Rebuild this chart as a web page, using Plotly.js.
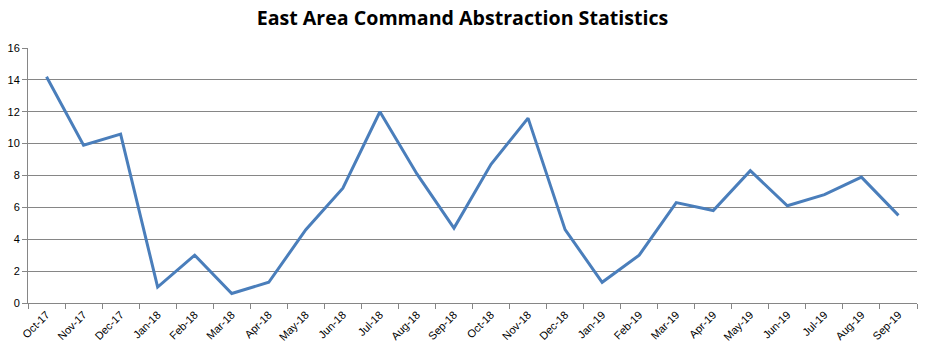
<!DOCTYPE html>
<html>
<head>
<meta charset="utf-8">
<script src="https://cdn.plot.ly/plotly-3.0.1.min.js"></script>
<style>html,body{margin:0;padding:0;background:#fff;}#chart{width:925px;height:354px;}</style>
</head>
<body>
<div id="chart"></div>
<script>
const months = ["Oct-17","Nov-17","Dec-17","Jan-18","Feb-18","Mar-18","Apr-18","May-18","Jun-18","Jul-18","Aug-18","Sep-18","Oct-18","Nov-18","Dec-18","Jan-19","Feb-19","Mar-19","Apr-19","May-19","Jun-19","Jul-19","Aug-19","Sep-19"];
const abstractions = [14.2,9.9,10.6,1.0,3.0,0.6,1.3,4.6,7.2,12.0,8.1,4.7,8.7,11.6,4.6,1.3,3.0,6.3,5.8,8.3,6.1,6.8,7.9,5.5];
const yTicks = [0,2,4,6,8,10,12,14,16];

Plotly.newPlot('chart', [{
  x: months, y: abstractions, type: 'scatter', mode: 'lines',
  line: {color: '#4a7ebb', width: 3}
}], {
  width: 925, height: 354,
  margin: {l: 28, r: 8, t: 48, b: 51},
  paper_bgcolor: '#fff', plot_bgcolor: '#fff',
  showlegend: false,
  title: {text: '<b>East Area Command Abstraction Statistics</b>', x: 0.5, xanchor: 'center', y: 0.95, yanchor: 'middle',
    font: {family: 'Open Sans, Liberation Sans, sans-serif', size: 19.6, color: '#000'}},
  xaxis: {type: 'category', tickangle: -45, tickson: 'boundaries', ticks: 'outside', ticklen: 5, tickcolor: '#868686',
    showline: true, linecolor: '#868686', linewidth: 1, showgrid: false, zeroline: false,
    tickfont: {family: 'Liberation Sans, sans-serif', size: 11, color: '#000'}, range: [-0.5, 23.5]},
  yaxis: {range: [0, 16], tickvals: yTicks, ticks: 'outside', ticklen: 5, tickcolor: '#868686',
    showline: true, linecolor: '#868686', showgrid: true, gridcolor: '#868686', gridwidth: 1, zeroline: false,
    tickfont: {family: 'Liberation Sans, sans-serif', size: 11, color: '#000'}}
}, {staticPlot: true});
</script>
</body>
</html>
